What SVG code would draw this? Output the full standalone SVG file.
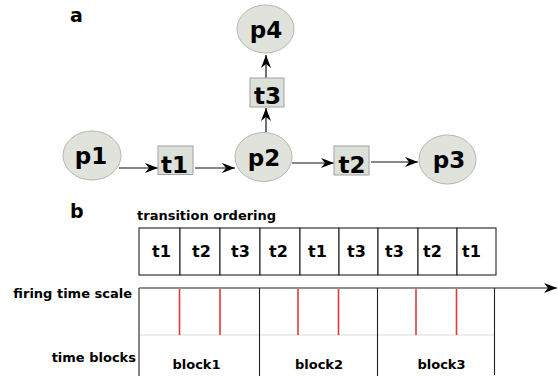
<svg xmlns="http://www.w3.org/2000/svg" width="558" height="376" viewBox="0 0 558 376">
<style>
  text { font-family: "DejaVu Sans", Verdana, sans-serif; font-weight: bold; fill: #000; }
  .place { fill: #dfe3dc; stroke: #b4b8b1; stroke-width: 1; }
  .trans { fill: #dbe0d8; stroke: #9ea39b; stroke-width: 1; }
  .node { font-size: 23px; text-anchor: middle; }
  .conn { stroke: #111; stroke-width: 1.2; fill: none; marker-end: url(#ah); }
  .cell { fill: #fff; stroke: #222; stroke-width: 1.1; }
  .cellt { font-size: 16px; }
  .lbl { font-size: 13px; }
  .red { stroke: #e03a3a; stroke-width: 1.6; }
  .div { stroke: #222; stroke-width: 1.1; }
</style>
<defs>
  <marker id="ah" markerWidth="14" markerHeight="11" refX="13" refY="5.5" orient="auto" markerUnits="userSpaceOnUse">
    <path d="M0,0.5 L13,5.5 L0,10.5 L4,5.5 z" fill="#000"/>
  </marker>
</defs>
<rect width="558" height="376" fill="#fff"/>

<text x="70" y="22" style="font-size:19px">a</text>

<g id="connectors">
  <line class="conn" x1="119" y1="168" x2="158" y2="168"/>
  <line class="conn" x1="195" y1="168" x2="235" y2="168"/>
  <line class="conn" x1="292" y1="163" x2="334" y2="163"/>
  <line class="conn" x1="371" y1="162" x2="418" y2="162"/>
  <line class="conn" x1="266" y1="132" x2="266" y2="108"/>
  <line class="conn" x1="266" y1="78" x2="266" y2="55"/>
</g>

<g id="p1"><ellipse class="place" cx="92" cy="155.5" rx="29" ry="24.5"/><text class="node" x="91" y="163.5">p1</text></g>
<g id="p2"><ellipse class="place" cx="263.5" cy="157" rx="28.5" ry="24.5"/><text class="node" x="264" y="165.5">p2</text></g>
<g id="p3"><ellipse class="place" cx="447.5" cy="159.5" rx="28.5" ry="24.5"/><text class="node" x="449" y="168">p3</text></g>
<g id="p4"><ellipse class="place" cx="265.5" cy="29" rx="28.5" ry="24"/><text class="node" x="266" y="37.5">p4</text></g>
<g id="t1"><rect class="trans" x="158" y="146" width="35" height="28.5"/><text class="node" x="174.5" y="172.5">t1</text></g>
<g id="t2"><rect class="trans" x="334" y="146" width="35" height="29"/><text class="node" x="352" y="172.5">t2</text></g>
<g id="t3"><rect class="trans" x="250" y="78" width="34" height="29"/><text class="node" x="267.5" y="104">t3</text></g>

<text x="70" y="218" style="font-size:19px">b</text>
<text class="lbl" x="137" y="220">transition ordering</text>

<g id="ordering">
  <rect class="cell" x="139" y="228" width="41" height="47"/>
  <rect class="cell" x="180" y="228" width="40" height="47"/>
  <rect class="cell" x="220" y="228" width="40" height="47"/>
  <rect class="cell" x="260" y="228" width="40" height="47"/>
  <rect class="cell" x="300" y="228" width="39" height="47"/>
  <rect class="cell" x="339" y="228" width="39" height="47"/>
  <rect class="cell" x="378" y="228" width="40" height="47"/>
  <rect class="cell" x="418" y="228" width="39" height="47"/>
  <rect class="cell" x="457" y="228" width="39" height="47"/>
  <text class="cellt" x="152" y="257">t1</text>
  <text class="cellt" x="192" y="257">t2</text>
  <text class="cellt" x="231" y="257">t3</text>
  <text class="cellt" x="269" y="257">t2</text>
  <text class="cellt" x="308" y="257">t1</text>
  <text class="cellt" x="347" y="257">t3</text>
  <text class="cellt" x="385" y="257">t3</text>
  <text class="cellt" x="423" y="257">t2</text>
  <text class="cellt" x="462" y="257">t1</text>
</g>

<g id="timescale">
  <text class="lbl" x="132" y="298" text-anchor="end">firing time scale</text>
  <line x1="139" y1="335" x2="494" y2="335" stroke="#dcdcdc" stroke-width="1"/>
  <line class="red" x1="179.5" y1="289" x2="179.5" y2="335"/>
  <line class="red" x1="220" y1="289" x2="220" y2="335"/>
  <line class="red" x1="298" y1="289" x2="298" y2="335"/>
  <line class="red" x1="338.5" y1="289" x2="338.5" y2="335"/>
  <line class="red" x1="416" y1="289" x2="416" y2="335"/>
  <line class="red" x1="456.5" y1="289" x2="456.5" y2="335"/>
  <line class="div" x1="139" y1="288" x2="139" y2="376"/>
  <line class="div" x1="259.5" y1="288" x2="259.5" y2="376"/>
  <line class="div" x1="377.5" y1="288" x2="377.5" y2="376"/>
  <line class="div" x1="494.5" y1="288" x2="494.5" y2="375"/>
  <line x1="139" y1="288" x2="557" y2="288" stroke="#222" stroke-width="1.1" marker-end="url(#ah)"/>
</g>

<g id="blocks">
  <text class="lbl" x="136" y="362" text-anchor="end">time blocks</text>
  <text class="lbl" x="196.5" y="369" text-anchor="middle">block1</text>
  <text class="lbl" x="319" y="369" text-anchor="middle">block2</text>
  <text class="lbl" x="441.5" y="369" text-anchor="middle">block3</text>
</g>
</svg>
